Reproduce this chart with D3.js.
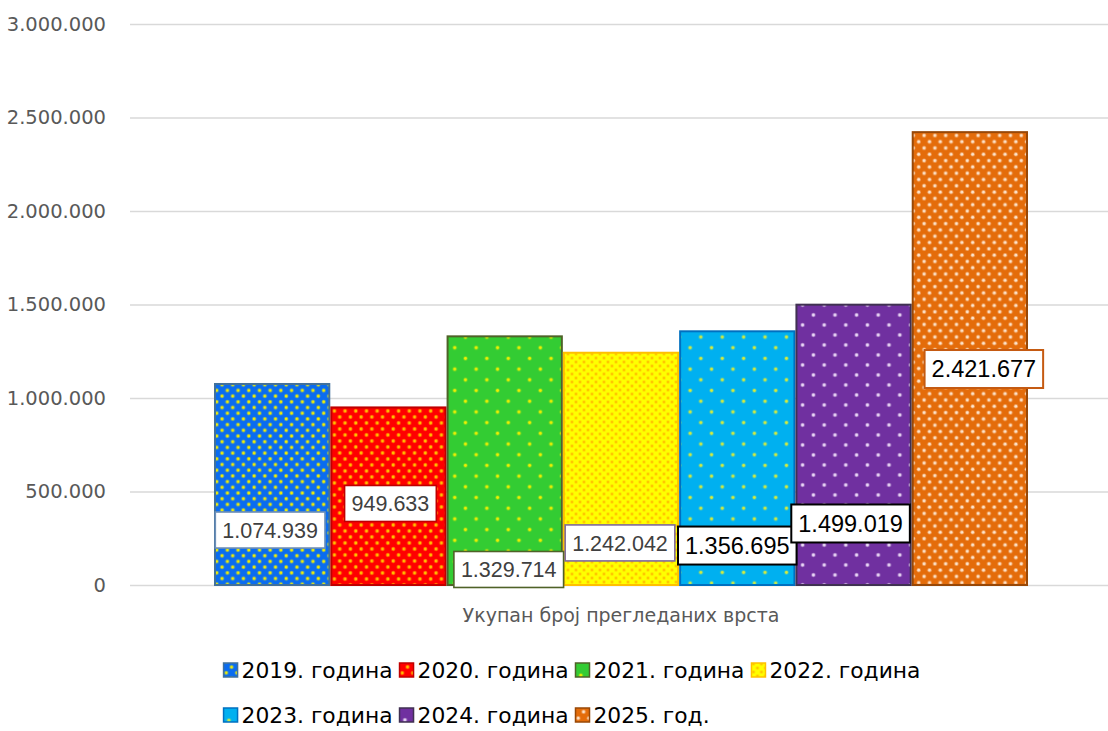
<!DOCTYPE html>
<html>
<head>
<meta charset="utf-8">
<script src="https://cdn.jsdelivr.net/npm/d3@7"></script>
<style>
    body { margin: 0; background: #fff; }
    #chart { width: 1108px; height: 731px; }
</style>
</head>
<body>
<div id="chart"></div>
<script>
// data
const categories = ["Укупан број прегледаних врста"]
const years = ["2019. година", "2020. година", "2021. година", "2022. година", "2023. година", "2024. година", "2025. год."]
const values = [1074939, 949633, 1329714, 1242042, 1356695, 1499019, 2421677]
const yTicks = [0, 500000, 1000000, 1500000, 2000000, 2500000, 3000000]

// where the value boxes sit: box centre on the y axis, and a small x nudge (hand placed in the original)
const labelAt = [294000, 436000, 83000, 225000, 211000, 329000, 1155000]
const labelDx = [-2, 2, 4, -1, 0, -3, 14]

// styles per series
const fills = ["#0a6cf0", "#ff0000", "#33cc33", "#ffff00", "#00b0f0", "#7030a0", "#e46c0a"]
const dotColors = ["#f4f000", "#ffc000", "#f0f000", "#ffc000", "#d8ec3a", "#ead8f6", "#fde4cc"]
const strokes = ["#41719c", "#c00000", "#4f6228", "#ffc000", "#0070c0", "#403152", "#984807"]
const dotCells = [[10.7, 11.4], [10.7, 12], [21.4, 21.4], [8, 8], [21.4, 21.4], [21.6, 20], [10.8, 12.6]]
const labelStrokes = ["#6d8fb7", "#c00000", "#4f6228", "#7f6a9b", "#000000", "#000000", "#c55a11"]
const labelInk = ["#404040", "#404040", "#404040", "#404040", "#000000", "#000000", "#000000"]
const labelSize = [21.5, 21.5, 21.5, 21.5, 23.5, 23.5, 23.5]

const W = 1108, H = 731
const margin = { top: 24, right: -4, bottom: 146, left: 130 }

const fmt = d3.formatLocale({ decimal: ",", thousands: ".", grouping: [3], currency: ["", ""] }).format(",d")

const svg = d3.select("#chart").append("svg")
    .attr("width", W)
    .attr("height", H)
    .style("font-family", "'DejaVu Sans', sans-serif")

const defs = svg.append("defs")

//dotted fills
years.forEach((yr, i) => {
    const [w, h] = dotCells[i]
    const p = defs.append("pattern")
        .attr("id", "dots-" + i)
        .attr("patternUnits", "userSpaceOnUse")
        .attr("width", w)
        .attr("height", h)
    p.append("rect").attr("width", w).attr("height", h).attr("fill", fills[i])
    const r = w < 9 ? 1.1 : 1.4
    ;[[w / 4, h / 4], [3 * w / 4, 3 * h / 4]].forEach(c => {
        p.append("circle").attr("cx", c[0]).attr("cy", c[1]).attr("r", r + 0.8)
            .attr("fill", dotColors[i]).attr("opacity", 0.4)
        p.append("circle").attr("cx", c[0]).attr("cy", c[1]).attr("r", r)
            .attr("fill", dotColors[i])
    })
})

//scales
const y = d3.scaleLinear()
    .domain([0, 3000000])
    .range([H - margin.bottom, margin.top])

const x0 = d3.scaleBand()
    .domain(categories)
    .range([margin.left, W - margin.right])
    .paddingInner(0)
    .paddingOuter(0.1032)

const x1 = d3.scaleBand()
    .domain(years)
    .range([0, x0.bandwidth()])

//gridlines + tick labels
const yAxis = svg.append("g")
    .attr("transform", "translate(" + margin.left + ",0)")
    .call(d3.axisLeft(y)
        .tickValues(yTicks)
        .tickSize(-(W - margin.left))
        .tickPadding(24)
        .tickFormat(fmt))

yAxis.select(".domain").remove()
yAxis.selectAll(".tick line").attr("stroke", "#d9d9d9").attr("stroke-width", 1.3)
yAxis.selectAll(".tick text")
    .attr("fill", "#595959")
    .style("font-size", "19.5px")
    .style("font-family", "'DejaVu Sans', sans-serif")

//bars
const group = svg.append("g")
    .selectAll("g")
    .data(categories)
    .join("g")
    .attr("transform", d => "translate(" + x0(d) + ",0)")

group.selectAll("rect")
    .data(years.map((yr, i) => ({ yr, i, v: values[i] })))
    .join("rect")
    .attr("x", d => x1(d.yr) + 1)
    .attr("y", d => y(d.v))
    .attr("width", x1.bandwidth() - 2)
    .attr("height", d => y(0) - y(d.v))
    .attr("fill", d => "url(#dots-" + d.i + ")")
    .attr("stroke", d => strokes[d.i])
    .attr("stroke-width", 2)

//value boxes
const labels = group.selectAll("g.lbl")
    .data(years.map((yr, i) => ({ yr, i, v: values[i] })))
    .join("g")
    .attr("class", "lbl")
    .attr("transform", d => "translate(" + (x1(d.yr) + x1.bandwidth() / 2 + labelDx[d.i]) + "," + y(labelAt[d.i]) + ")")

labels.append("text")
    .attr("text-anchor", "middle")
    .attr("dy", "0.36em")
    .attr("fill", d => labelInk[d.i])
    .style("font-family", "'Liberation Sans', Arial, sans-serif")
    .style("font-size", d => labelSize[d.i] + "px")
    .text(d => fmt(d.v))

labels.each(function (d) {
    const g = d3.select(this)
    const bb = g.select("text").node().getBBox()
    const padX = 7, padY = 7
    g.insert("rect", "text")
        .attr("x", bb.x - padX)
        .attr("y", -(bb.height / 2) - padY + 1)
        .attr("width", bb.width + padX * 2)
        .attr("height", bb.height + padY * 2 - 2)
        .attr("fill", "#fff")
        .attr("stroke", labelStrokes[d.i])
        .attr("stroke-width", d.i >= 4 ? 2 : 1.6)
})

//category label
svg.append("text")
    .attr("x", x0(categories[0]) + x0.bandwidth() / 2)
    .attr("y", 622)
    .attr("text-anchor", "middle")
    .attr("fill", "#595959")
    .style("font-size", "19px")
    .text(categories[0])

//legend, 4 columns like the original
const legend = svg.append("g")
const items = legend.selectAll("g")
    .data(years)
    .join("g")

items.append("rect")
    .attr("width", 14)
    .attr("height", 14)
    .attr("y", -7)
    .attr("fill", (d, i) => "url(#dots-" + i + ")")
    .attr("stroke", (d, i) => strokes[i])
    .attr("stroke-width", 1.5)

items.append("text")
    .attr("x", 18)
    .attr("dy", "0.36em")
    .attr("fill", "#000")
    .style("font-size", "21.8px")
    .text(d => d)

let colW = 0
items.each(function () { colW = Math.max(colW, this.getBBox().width) })
colW += 7
const perRow = 4
const rowW = perRow * colW - 7
const startX = 572 - rowW / 2

items.attr("transform", (d, i) => "translate(" + (startX + (i % perRow) * colW) + "," + (670 + Math.floor(i / perRow) * 45) + ")")
</script>
</body>
</html>
